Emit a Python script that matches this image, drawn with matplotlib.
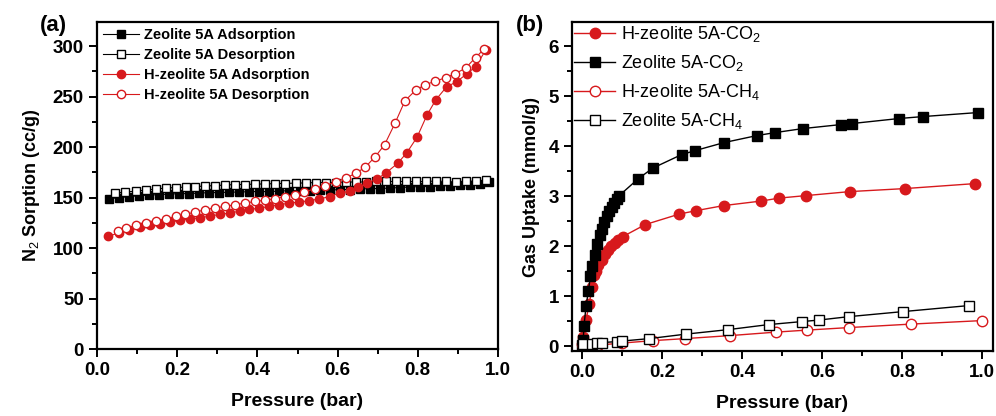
import numpy as np
import matplotlib
matplotlib.use("Agg")
import matplotlib.pyplot as plt
from matplotlib.ticker import MultipleLocator

plt.rcParams['font.family'] = ['Liberation Sans', 'DejaVu Sans']
plt.rcParams['mathtext.fontset'] = 'custom'
plt.rcParams['mathtext.rm'] = 'Liberation Sans'
plt.rcParams['mathtext.it'] = 'Liberation Sans:italic'
plt.rcParams['mathtext.bf'] = 'Liberation Sans:bold'

RED = '#d7191c'

# ---- (a) N2 sorption ----
z_ads_p = [0.030, 0.055, 0.080, 0.105, 0.130, 0.155, 0.180, 0.205, 0.230, 0.255,
           0.280, 0.305, 0.330, 0.355, 0.380, 0.405, 0.430, 0.455, 0.480, 0.505,
           0.530, 0.555, 0.580, 0.605, 0.630, 0.655, 0.680, 0.705, 0.730, 0.755,
           0.780, 0.805, 0.830, 0.855, 0.880, 0.905, 0.930, 0.955, 0.978]
z_ads_v = [149, 150, 151, 152, 152.5, 153, 153.5, 154, 154, 154.5,
           155, 155, 155.5, 155.5, 156, 156, 156, 156.5, 157, 157,
           157, 157.5, 157.5, 158, 158, 158.5, 159, 159, 159.5, 160,
           160.5, 161, 161, 161.5, 162, 162.5, 163, 164, 165.5]

z_des_p = [0.046, 0.071, 0.096, 0.121, 0.146, 0.171, 0.196, 0.221, 0.245, 0.270,
           0.295, 0.320, 0.345, 0.370, 0.395, 0.420, 0.445, 0.470, 0.495, 0.520,
           0.545, 0.570, 0.595, 0.620, 0.645, 0.670, 0.695, 0.720, 0.745, 0.770,
           0.795, 0.820, 0.845, 0.870, 0.895, 0.920, 0.945, 0.970]
z_des_v = [154.5, 155.5, 156.5, 157.5, 158.5, 159.5, 160, 160.5, 161, 161.5,
           162, 162.5, 163, 163, 163.5, 163.5, 164, 164, 164.5, 164.5,
           165, 165, 165, 165.5, 165.5, 165.5, 166, 166, 166, 166,
           166, 166, 166.5, 166, 165.5, 166, 166.5, 167]

h_ads_p = [0.028, 0.054, 0.080, 0.106, 0.133, 0.158, 0.182, 0.207, 0.232, 0.257,
           0.281, 0.306, 0.331, 0.356, 0.380, 0.405, 0.430, 0.455, 0.479, 0.504,
           0.529, 0.554, 0.580, 0.606, 0.630, 0.651, 0.674, 0.699, 0.721, 0.750,
           0.773, 0.798, 0.823, 0.845, 0.872, 0.897, 0.923, 0.944, 0.969]
h_ads_v = [111.7, 115, 118.3, 120.9, 122.5, 124.2, 125.8, 127.5, 128.8, 130.1,
           131.7, 133.4, 134.7, 136.7, 138.3, 139.6, 141.3, 143, 144.6, 145.6,
           147, 148.7, 151, 154.5, 156.4, 160.4, 164.3, 168.7, 174.6, 184.1,
           194.7, 209.8, 231.9, 247, 259.9, 264.8, 273, 279.6, 296]

h_des_p = [0.053, 0.073, 0.098, 0.123, 0.146, 0.172, 0.196, 0.220, 0.245, 0.270,
           0.295, 0.319, 0.344, 0.369, 0.394, 0.419, 0.443, 0.468, 0.493, 0.517,
           0.544, 0.568, 0.595, 0.622, 0.647, 0.669, 0.694, 0.717, 0.743, 0.768,
           0.795, 0.818, 0.842, 0.870, 0.894, 0.919, 0.944, 0.965]
h_des_v = [116.9, 119.9, 122.5, 124.8, 126.8, 129.1, 131.4, 133.4, 135.7, 138,
           140, 141.3, 143, 144.6, 146.2, 147.5, 149, 151, 153, 155.5,
           159, 162, 165.3, 169.6, 174.6, 180.2, 190.7, 202.3, 223.6, 246,
           256.6, 261.9, 265.1, 269, 273, 278.3, 288.8, 297.1]

# ---- (b) gas uptake ----
z_co2_p = [0.001, 0.003, 0.005, 0.010, 0.016, 0.021, 0.026, 0.032, 0.038, 0.044,
           0.049, 0.055, 0.062, 0.068, 0.074, 0.080, 0.087, 0.093, 0.141, 0.177,
           0.249, 0.283, 0.355, 0.437, 0.483, 0.552, 0.647, 0.674, 0.791, 0.852, 0.989]
z_co2_v = [0.02, 0.12, 0.40, 0.80, 1.10, 1.40, 1.60, 1.82, 2.05, 2.22,
           2.35, 2.48, 2.60, 2.70, 2.78, 2.87, 2.94, 3.01, 3.35, 3.56,
           3.83, 3.91, 4.07, 4.21, 4.27, 4.35, 4.43, 4.45, 4.55, 4.59, 4.67]

h_co2_p = [0.001, 0.003, 0.010, 0.018, 0.026, 0.030, 0.036, 0.041, 0.049, 0.057,
           0.065, 0.073, 0.082, 0.090, 0.102, 0.158, 0.243, 0.286, 0.354, 0.447,
           0.493, 0.560, 0.670, 0.807, 0.983]
h_co2_v = [0.05, 0.19, 0.52, 0.85, 1.19, 1.42, 1.50, 1.62, 1.72, 1.85,
           1.93, 2.01, 2.07, 2.12, 2.19, 2.43, 2.64, 2.71, 2.81, 2.90,
           2.96, 3.01, 3.09, 3.15, 3.25]

z_ch4_p = [0.003, 0.024, 0.037, 0.049, 0.087, 0.099, 0.168, 0.260, 0.366, 0.466,
           0.549, 0.591, 0.668, 0.802, 0.966]
z_ch4_v = [0.05, 0.05, 0.07, 0.07, 0.09, 0.10, 0.15, 0.24, 0.33, 0.43,
           0.49, 0.52, 0.59, 0.69, 0.81]

h_ch4_p = [0.003, 0.020, 0.040, 0.099, 0.178, 0.258, 0.370, 0.485, 0.562, 0.666,
           0.822, 0.999]
h_ch4_v = [0.01, 0.02, 0.02, 0.06, 0.11, 0.15, 0.21, 0.28, 0.32, 0.37,
           0.44, 0.51]

fig = plt.figure(figsize=(9.96, 4.16), dpi=100)
ax1 = fig.add_axes([0.0974, 0.161, 0.4026, 0.786])
ax2 = fig.add_axes([0.5743, 0.156, 0.4227, 0.791])

ms1 = 6
ax1.plot(z_ads_p, z_ads_v, '-s', color='black', ms=ms1, lw=0.8, label='Zeolite 5A Adsorption')
ax1.plot(z_des_p, z_des_v, '-s', color='black', mfc='white', ms=ms1, lw=0.8, label='Zeolite 5A Desorption')
ax1.plot(h_ads_p, h_ads_v, '-o', color=RED, ms=ms1, lw=0.8, label='H-zeolite 5A Adsorption')
ax1.plot(h_des_p, h_des_v, '-o', color=RED, mfc='white', ms=ms1, lw=0.8, label='H-zeolite 5A Desorption')

ax1.set_xlim(0, 1.0)
ax1.set_ylim(0, 324)
ax1.xaxis.set_major_locator(MultipleLocator(0.2))
ax1.xaxis.set_minor_locator(MultipleLocator(0.1))
ax1.yaxis.set_major_locator(MultipleLocator(50))
ax1.yaxis.set_minor_locator(MultipleLocator(25))
ax1.set_xlabel('Pressure (bar)', fontsize=14, fontweight='bold', labelpad=10)
ax1.set_ylabel('N$_2$ Sorption (cc/g)', fontsize=13, fontweight='bold', labelpad=8)
leg1 = ax1.legend(loc='upper left', frameon=False, fontsize=10.5, handlelength=2.5,
                  borderaxespad=0.2, borderpad=0.2, labelspacing=0.42, handletextpad=0.3)
for t in leg1.get_texts():
    t.set_fontweight('bold')

ms2 = 7.5
ax2.plot(h_co2_p, h_co2_v, '-o', color=RED, ms=ms2, lw=1.0, label='H-zeolite 5A-CO$_2$')
ax2.plot(z_co2_p, z_co2_v, '-s', color='black', ms=ms2 - 1, lw=1.0, label='Zeolite 5A-CO$_2$')
ax2.plot(h_ch4_p, h_ch4_v, '-o', color=RED, mfc='white', ms=ms2, lw=1.0, label='H-zeolite 5A-CH$_4$')
ax2.plot(z_ch4_p, z_ch4_v, '-s', color='black', mfc='white', ms=ms2 - 1, lw=1.0, label='Zeolite 5A-CH$_4$')

ax2.set_xlim(-0.025, 1.027)
ax2.set_ylim(-0.1, 6.48)
ax2.xaxis.set_major_locator(MultipleLocator(0.2))
ax2.xaxis.set_minor_locator(MultipleLocator(0.1))
ax2.yaxis.set_major_locator(MultipleLocator(1))
ax2.yaxis.set_minor_locator(MultipleLocator(0.5))
ax2.set_xlabel('Pressure (bar)', fontsize=14, fontweight='bold', labelpad=10)
ax2.set_ylabel('Gas Uptake (mmol/g)', fontsize=13, fontweight='bold', labelpad=6)
ax2.legend(loc='upper left', frameon=False, fontsize=13, handlelength=2.3,
           borderaxespad=0.0, borderpad=0.1, labelspacing=0.5, handletextpad=0.3)

for ax in (ax1, ax2):
    for s in ax.spines.values():
        s.set_linewidth(1.6)
    ax.tick_params(which='both', direction='out', top=False, right=False, width=1.4)
    ax.tick_params(which='major', length=6, labelsize=13.5)
    ax.tick_params(which='minor', length=3.5)
    for lab in ax.get_xticklabels() + ax.get_yticklabels():
        lab.set_fontweight('bold')

fig.text(0.04, 0.925, '(a)', fontsize=16, fontweight='bold')
fig.text(0.518, 0.925, '(b)', fontsize=16, fontweight='bold')

fig.savefig('out.png', dpi=100)
